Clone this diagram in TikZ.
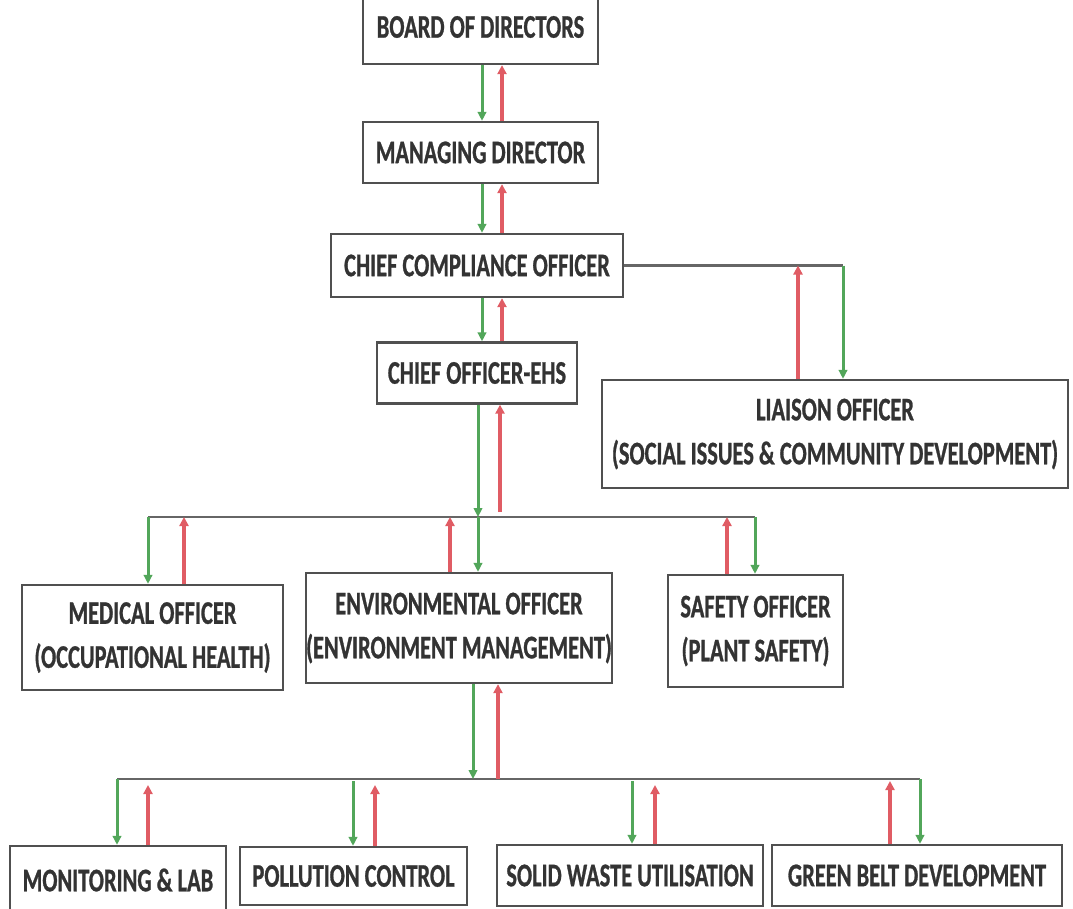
\documentclass[tikz,border=0pt]{standalone}
\usepackage{fontspec}
\setmainfont{Carlito}
\newfontfamily\boxfont{Carlito}[FakeStretch=0.68, FakeBold=0.8]
\usetikzlibrary{arrows.meta}
\definecolor{grn}{HTML}{52A65A}
\definecolor{rd}{HTML}{E05C64}
\definecolor{ln}{HTML}{666666}
\definecolor{bx}{HTML}{505050}
\definecolor{txt}{HTML}{333333}
\tikzset{
  box/.style={draw=bx, line width=2.3pt, fill=white, align=center, inner sep=0pt,
    text=txt, font=\boxfont\bfseries\fontsize{33}{44}\selectfont},
  bus/.style={draw=ln, line width=2.6pt},
  garr/.style={draw=grn, line width=3pt, -{Triangle[length=9pt,width=8.5pt]}},
  rarr/.style={draw=rd, line width=3.2pt, -{Triangle[length=9pt,width=9pt]}},
}
\begin{document}
\begin{tikzpicture}[x=1pt,y=-1pt]
\useasboundingbox (0,0) rectangle (1073,908);
% boxes
\node[box, minimum width=235pt, minimum height=74pt] (bod) at (480.5,27) {BOARD OF DIRECTORS};
\node[box, minimum width=235pt, minimum height=61pt] (md) at (480.5,152.5) {MANAGING DIRECTOR};
\node[box, minimum width=292pt, minimum height=63pt] (cco) at (477,265.5) {CHIEF COMPLIANCE OFFICER};
\node[box, minimum width=200pt, minimum height=61pt] (ehs) at (477,373) {CHIEF OFFICER-EHS};
\node[box, minimum width=466pt, minimum height=108pt] (lia) at (835,434) {LIAISON OFFICER\\(SOCIAL ISSUES \& COMMUNITY DEVELOPMENT)};
\node[box, minimum width=261pt, minimum height=105pt] (med) at (152.5,637.5) {MEDICAL OFFICER\\(OCCUPATIONAL HEALTH)};
\node[box, minimum width=302pt, minimum height=110pt] (env) at (459,628) {ENVIRONMENTAL OFFICER\\(ENVIRONMENT MANAGEMENT)};
\node[box, minimum width=175pt, minimum height=112pt] (saf) at (755.5,631) {SAFETY OFFICER\\(PLANT SAFETY)};
\node[box, minimum width=216pt, minimum height=68pt] (mon) at (118,880) {MONITORING \& LAB};
\node[box, minimum width=227pt, minimum height=58pt] (pol) at (353.5,876) {POLLUTION CONTROL};
\node[box, minimum width=266pt, minimum height=61pt] (sol) at (630,875.5) {SOLID WASTE UTILISATION};
\node[box, minimum width=290pt, minimum height=61pt] (gb) at (917,875.5) {GREEN BELT DEVELOPMENT};
% top chain
\draw[garr] (bod.south -| 482,0) -- (md.north -| 482,0);
\draw[rarr] (md.north -| 502,0) -- (bod.south -| 502,0);
\draw[garr] (md.south -| 482,0) -- (cco.north -| 482,0);
\draw[rarr] (cco.north -| 502,0) -- (md.south -| 502,0);
\draw[garr] (cco.south -| 482,0) -- (ehs.north -| 482,0);
\draw[rarr] (ehs.north -| 502,0) -- (cco.south -| 502,0);
% liaison
\coordinate (lk) at (843,265.5);
\draw[bus] (cco.east) -- (lk);
\draw[garr] (lk) -- (lia.north -| lk);
\draw[rarr] (lia.north -| 798,0) -- (798,0 |- lk);
% first bus
\coordinate (b1l) at (148,517);
\coordinate (b1r) at (755,517);
\draw[bus] (b1l) -- (b1r);
\draw[garr] (ehs.south -| 478,0) -- (478,0 |- b1l);
\draw[garr] (478,0 |- b1l) -- (env.north -| 478,0);
\draw[rarr, shorten <=5pt] (500,0 |- b1l) -- (ehs.south -| 500,0);
\draw[garr] (b1l) -- (med.north -| b1l);
\draw[rarr] (med.north -| 184,0) -- (184,0 |- b1l);
\draw[rarr] (env.north -| 450,0) -- (450,0 |- b1l);
\draw[rarr] (saf.north -| 727,0) -- (727,0 |- b1l);
\draw[garr] (b1r) -- (saf.north -| b1r);
% second bus
\coordinate (b2l) at (117,779);
\coordinate (b2r) at (920,779);
\draw[bus] (b2l) -- (b2r);
\draw[garr] (env.south -| 473,0) -- (473,0 |- b2l);
\draw[rarr] (498,0 |- b2l) -- (env.south -| 498,0);
\draw[garr] (b2l) -- (mon.north -| b2l);
\draw[rarr, shorten >=6pt] (mon.north -| 148,0) -- (148,0 |- b2l);
\draw[garr, shorten <=2pt] (353,0 |- b2l) -- (pol.north -| 353,0);
\draw[rarr, shorten >=6pt] (pol.north -| 375,0) -- (375,0 |- b2l);
\draw[garr, shorten <=2pt] (632,0 |- b2l) -- (sol.north -| 632,0);
\draw[rarr, shorten >=6pt] (sol.north -| 655,0) -- (655,0 |- b2l);
\draw[rarr, shorten >=2pt] (gb.north -| 890,0) -- (890,0 |- b2l);
\draw[garr] (b2r) -- (gb.north -| b2r);
\end{tikzpicture}
\end{document}
